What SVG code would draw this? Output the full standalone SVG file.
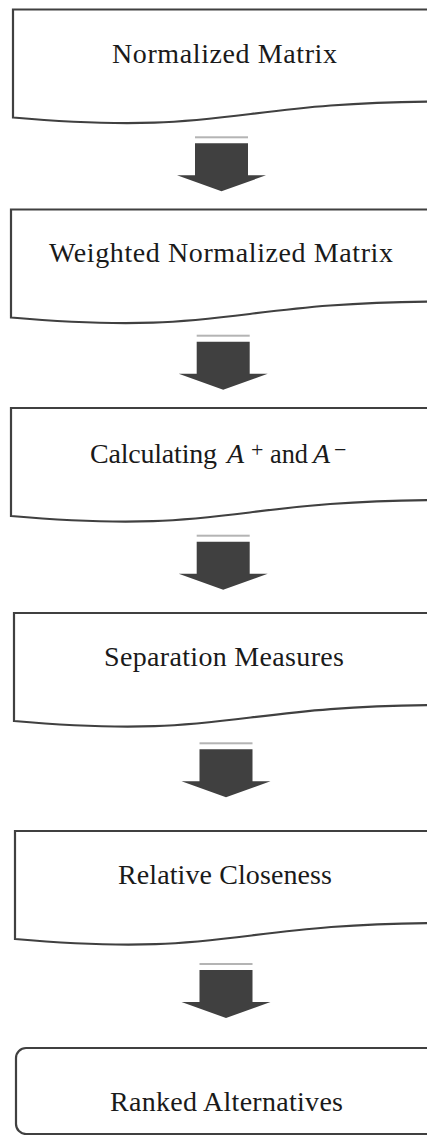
<svg xmlns="http://www.w3.org/2000/svg" width="427" height="1135" viewBox="0 0 427 1135">
<style>
.box{fill:#ffffff;stroke:#404040;stroke-width:2.2;stroke-linejoin:miter}
.arr{fill:#404040}
.bar{fill:#b4b4b4}
</style>
<defs>
<g id="arrow">
<rect class="bar" x="0" y="-1" width="53" height="2"/>
<path class="arr" d="M0,6 H53 V38 H71 L26.5,54 L-18,38 H0 Z"/>
</g>
</defs>
<rect width="427" height="1135" fill="#ffffff"/>
<g id="connectors">
<use href="#arrow" transform="translate(195,137.3)"/>
<use href="#arrow" transform="translate(196.7,335.7)"/>
<use href="#arrow" transform="translate(196.7,535.7)"/>
<use href="#arrow" transform="translate(199.5,743.3)"/>
<use href="#arrow" transform="translate(199.5,964)"/>
</g>
<g id="node1">
<path class="box" d="M13,9.5 H445 V101.5 C229,101.5 229,136.5 13,117.5 Z"/>
<text style="font-family:'Liberation Serif',serif" font-size="28" fill="#1a1a1a" text-anchor="middle" x="224.5" y="63" textLength="225" lengthAdjust="spacing">Normalized Matrix</text>
</g>
<g id="node2">
<path class="box" d="M11,209.5 H445 V301.5 C228,301.5 228,336.5 11,317.5 Z"/>
<text style="font-family:'Liberation Serif',serif" font-size="28" fill="#1a1a1a" text-anchor="middle" x="221" y="261.7" textLength="344" lengthAdjust="spacing">Weighted Normalized Matrix</text>
</g>
<g id="node3">
<path class="box" d="M11,408 H445 V500 C228,500 228,535 11,516 Z"/>
<text style="font-family:'Liberation Serif',serif" font-size="28" fill="#1a1a1a" y="462.7"><tspan x="90" textLength="127" lengthAdjust="spacing">Calculating</tspan><tspan x="227" font-style="italic">A</tspan><tspan x="251" font-size="22" dy="-6">+</tspan><tspan x="270" dy="6" textLength="38" lengthAdjust="spacingAndGlyphs">and</tspan><tspan x="313" font-style="italic">A</tspan><tspan x="334" font-size="22" dy="-6">−</tspan></text>
</g>
<g id="node4">
<path class="box" d="M14,613 H445 V705 C229,705 229,740 14,721 Z"/>
<text style="font-family:'Liberation Serif',serif" font-size="28" fill="#1a1a1a" text-anchor="middle" x="224" y="666" textLength="240" lengthAdjust="spacing">Separation Measures</text>
</g>
<g id="node5">
<path class="box" d="M15,831 H445 V923 C230,923 230,958 15,939 Z"/>
<text style="font-family:'Liberation Serif',serif" font-size="28" fill="#1a1a1a" text-anchor="middle" x="225" y="884" textLength="214" lengthAdjust="spacing">Relative Closeness</text>
</g>
<g id="node6">
<rect class="box" x="16" y="1048" width="430" height="86" rx="10" ry="10"/>
<text style="font-family:'Liberation Serif',serif" font-size="28" fill="#1a1a1a" text-anchor="middle" x="226.5" y="1110.7" textLength="233" lengthAdjust="spacing">Ranked Alternatives</text>
</g>
</svg>
